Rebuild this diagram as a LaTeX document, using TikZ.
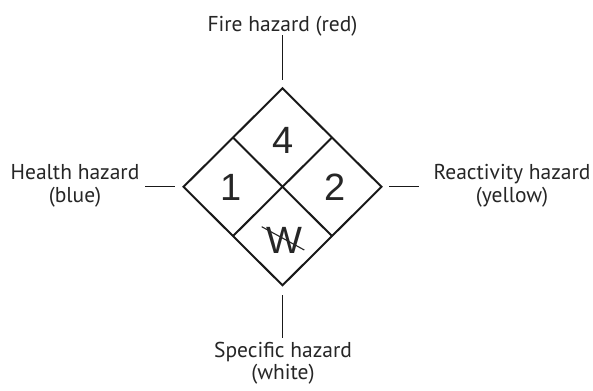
\documentclass[tikz,border=0pt]{standalone}
\usepackage{fontspec}
\setmainfont{PT Sans}
\newfontfamily\digitfont{Liberation Sans}
\usetikzlibrary{calc}
\tikzset{
  panel/.style={line width=2pt, line join=miter, draw=black!90},
  tick/.style={line width=1pt, draw=black!90},
  label/.style={font=\fontsize{21.5}{22.5}\selectfont, text=black!85, inner sep=0pt, align=center},
  rating/.style={font=\digitfont\fontsize{38}{38}\selectfont, text=black!85, inner sep=0pt, anchor=base},
}
\begin{document}
\begin{tikzpicture}[x=1pt,y=-1pt]
\useasboundingbox (0,0) rectangle (593,390);
\fill[white] (0,0) rectangle (593,390);

% corners of the hazard diamond
\coordinate (T) at (282.5,88.3);
\coordinate (R) at (381.5,186.8);
\coordinate (B) at (282.5,285.3);
\coordinate (L) at (183.5,186.8);

% outline and the two dividing lines
\draw[panel] (T) -- (R) -- (B) -- (L) -- cycle;
\draw[panel] ($(T)!0.5!(L)$) -- ($(R)!0.5!(B)$);
\draw[panel] ($(T)!0.5!(R)$) -- ($(L)!0.5!(B)$);

% ratings
\node[rating] (fire)   at (283,153.3) {4};
\node[rating] (health) at (231,200) {1};
\node[rating] (react)  at (335,200) {2};
\node[rating] (spec)   at (284,253) {W};
\coordinate (s1) at (261.7,226.7);
\coordinate (s2) at (304.3,250);
\draw[line width=1.1pt, draw=black!85] (s1) -- (s2);

% category labels
\node[label, anchor=base] (lfire) at (282.5,31.5) {Fire hazard (red)};
\node[label, anchor=north] (lhealth) at (75,164.5) {Health hazard\\(blue)};
\node[label, anchor=north] (lreact) at (512,164.5) {Reactivity hazard\\(yellow)};
\node[label, anchor=north] (lspec) at (283,341.5) {Specific hazard\\(white)};

% leader ticks
\draw[tick] ([yshift=53]T) -- ([yshift=8]T);
\draw[tick] ([yshift=-10]B) -- ([yshift=-53]B);
\draw[tick] ([xshift=-38.5]L) -- ([xshift=-8.5]L);
\draw[tick] ([xshift=7.5]R) -- ([xshift=37.5]R);
\end{tikzpicture}
\end{document}
